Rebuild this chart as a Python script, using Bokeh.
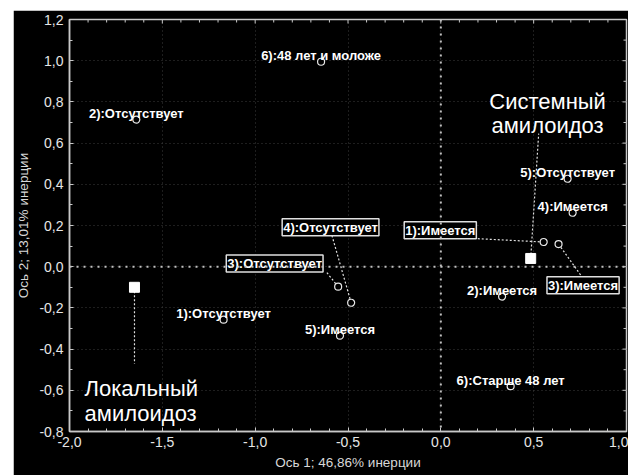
import numpy as np
from bokeh.plotting import figure
from bokeh.models import (ColumnDataSource, Range1d, FixedTicker,
                          CustomJSTickFormatter, Span, Spacer)
from bokeh.layouts import row, column
from bokeh.core.properties import value
from bokeh.embed import file_html
from bokeh.resources import INLINE

# ---------------- data ----------------
plain_labels = ["1):Отсутствует", "2):Отсутствует", "5):Отсутствует", "6):48 лет и моложе",
                "2):Имеется", "4):Имеется", "5):Имеется", "6):Старше 48 лет"]
plain_x = [-1.17, -1.64, 0.683, -0.645, 0.33, 0.71, -0.543, 0.376]
plain_y = [-0.257, 0.714, 0.427, 0.995, -0.145, 0.262, -0.335, -0.58]

boxed_labels = ["3):Отсутствует", "4):Отсутствует", "1):Имеется", "3):Имеется"]
boxed_x = [-0.553, -0.483, 0.554, 0.634]
boxed_y = [-0.097, -0.175, 0.12, 0.11]
boxed_label_x = [-0.895, -0.594, -0.003, 0.766]
boxed_label_y = [0.015, 0.192, 0.177, -0.09]
boxed_leader_x = [-0.618, -0.586, 0.199, 0.763]
boxed_leader_y = [-0.024, 0.150, 0.136, -0.053]

group_line1 = ["Локальный", "Системный"]
group_line2 = ["амилоидоз", "амилоидоз"]
group_x = [-1.65, 0.484]
group_y = [-0.1, 0.04]
group_label_x = [-1.919, 0.575]
group_label_y1 = [-0.592, 0.801]
group_label_y2 = [-0.714, 0.684]
group_align = ["left", "center"]
group_leader_x = [-1.65, 0.527]
group_leader_y = [-0.471, 0.646]

x_title = "Ось 1; 46,86% инерции"
y_title = "Ось 2; 13,01% инерции"

X_MIN, X_MAX, X_STEP = -2.0, 1.0, 0.5
Y_MIN, Y_MAX, Y_STEP = -0.8, 1.2, 0.2
MINOR = 0.1

FONT = "Liberation Sans"
FG = "#e6e6e6"
AX = "#c8c8c8"

# tick positions
xs_all = [float(v) for v in np.round(np.arange(X_MIN, X_MAX + 1e-9, MINOR), 1)]
ys_all = [float(v) for v in np.round(np.arange(Y_MIN, Y_MAX + 1e-9, MINOR), 1)]
x_major = [v for v in xs_all if abs(v / X_STEP - round(v / X_STEP)) < 1e-6]
x_minor = [v for v in xs_all if abs(v / X_STEP - round(v / X_STEP)) >= 1e-6]
y_major = [v for v in ys_all if abs(v / Y_STEP - round(v / Y_STEP)) < 1e-6]
y_minor = [v for v in ys_all if abs(v / Y_STEP - round(v / Y_STEP)) >= 1e-6]

p = figure(width=615, height=465, output_backend="svg", toolbar_location=None,
           x_range=Range1d(X_MIN, X_MAX), y_range=Range1d(Y_MIN, Y_MAX),
           background_fill_color="black", border_fill_color="black",
           min_border_left=55, min_border_top=9, min_border_right=2, min_border_bottom=44,
           outline_line_color=AX, outline_line_width=1.5)

fmt = CustomJSTickFormatter(code="return tick.toFixed(1).replace('.', ',');")
xt = FixedTicker(ticks=x_major, minor_ticks=x_minor)
yt = FixedTicker(ticks=y_major, minor_ticks=y_minor)

for ax, t in ((p.xaxis[0], xt), (p.yaxis[0], yt)):
    ax.ticker = t
    ax.formatter = fmt
    ax.major_tick_in = 4
    ax.major_tick_out = 0
    ax.minor_tick_in = 3
    ax.minor_tick_out = 0
    ax.major_tick_line_color = AX
    ax.minor_tick_line_color = AX
    ax.axis_line_color = AX
    ax.axis_line_width = 1.5
    ax.major_label_text_font = FONT
    ax.major_label_text_font_size = "14px"
    ax.major_label_text_color = FG
    ax.axis_label_text_font = FONT
    ax.axis_label_text_font_size = "13.5px"
    ax.axis_label_text_font_style = "normal"
    ax.axis_label_text_color = "#d8d8d8"

p.xaxis[0].axis_label = x_title
p.yaxis[0].axis_label = y_title
p.xaxis[0].major_label_standoff = 5
p.xaxis[0].axis_label_standoff = 5
p.yaxis[0].major_label_standoff = 6
p.yaxis[0].axis_label_standoff = 5

p.xgrid.ticker = FixedTicker(ticks=x_major)
p.ygrid.ticker = FixedTicker(ticks=y_major)
p.grid.grid_line_color = "#3c3c3c"
p.grid.grid_line_dash = "1 3"

# inward ticks on the top and right frame edges (markers clipped by the frame)
p.scatter(x=x_major, y=[Y_MAX] * len(x_major), marker="dash", angle=np.pi / 2, size=8,
          line_color=AX, line_width=1)
p.scatter(x=x_minor, y=[Y_MAX] * len(x_minor), marker="dash", angle=np.pi / 2, size=6,
          line_color=AX, line_width=1)
p.scatter(x=[X_MAX] * len(y_major), y=y_major, marker="dash", size=8, line_color=AX, line_width=1)
p.scatter(x=[X_MAX] * len(y_minor), y=y_minor, marker="dash", size=6, line_color=AX, line_width=1)

p.add_layout(Span(location=0, dimension="width", line_color="#c0c0c0", line_width=2, line_dash="2 5"))
p.add_layout(Span(location=0, dimension="height", line_color="#c0c0c0", line_width=2, line_dash="2 5"))

# leader lines
p.segment(x0=boxed_x, y0=boxed_y, x1=boxed_leader_x, y1=boxed_leader_y,
          line_color="#e0e0e0", line_width=1.2, line_dash="2 2")
p.segment(x0=group_x, y0=group_y, x1=group_leader_x, y1=group_leader_y,
          line_color="#e0e0e0", line_width=1.2, line_dash="2 2")

# points
p.scatter(x=plain_x + boxed_x, y=plain_y + boxed_y, marker="circle", size=7,
          fill_color="black", line_color="#e8e8e8", line_width=1.2)
p.scatter(x=group_x, y=group_y, marker="square", size=10,
          fill_color="white", line_color="white")

# plain labels
p.text(x=plain_x, y=plain_y, text=plain_labels, text_align="center", text_baseline="alphabetic",
       y_offset=-6, text_font=value(FONT), text_font_size="13px", text_font_style="bold",
       text_color="white")

# boxed labels
p.text(x=boxed_label_x, y=boxed_label_y, text=boxed_labels, text_align="center",
       text_baseline="middle", text_font=value(FONT), text_font_size="13px",
       text_font_style="bold", text_color="white", background_fill_color="black",
       border_line_color="#e0e0e0", border_line_width=1.5, padding=1)

# group labels
src_g = ColumnDataSource(dict(x=group_label_x, y1=group_label_y1, y2=group_label_y2,
                              t1=group_line1, t2=group_line2, a=group_align))
p.text(x="x", y="y1", text="t1", text_align="a", text_baseline="alphabetic", source=src_g,
       text_font=value(FONT), text_font_size="22px", text_color="white")
p.text(x="x", y="y2", text="t2", text_align="a", text_baseline="alphabetic", source=src_g,
       text_font=value(FONT), text_font_size="22px", text_color="white")

layout = column(Spacer(height=10), row(Spacer(width=13), p))
open("out.html", "w").write(file_html(layout, INLINE))
